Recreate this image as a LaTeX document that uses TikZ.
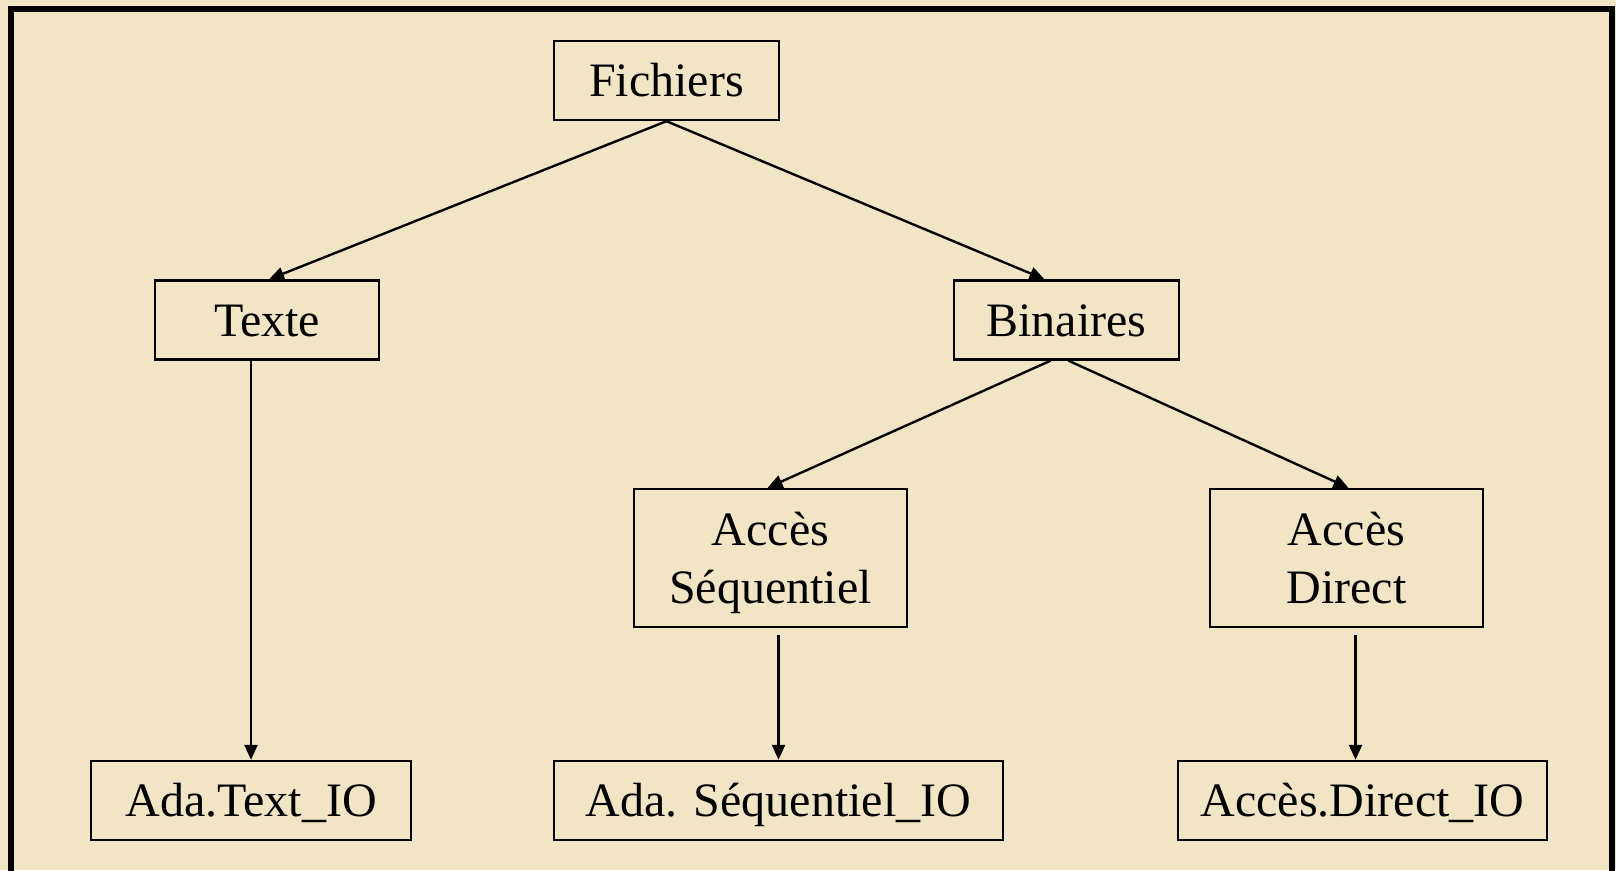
\documentclass[tikz,border=0pt]{standalone}
\usepackage{fontspec}
\setmainfont{Liberation Serif}
\usetikzlibrary{arrows.meta,calc}
\definecolor{parch}{RGB}{242,229,197}
\tikzset{
  box/.style={draw=black,line width=2.4pt,inner sep=0pt,minimum height=79pt,
    font=\fontsize{48}{58}\selectfont,align=center,text=black,text depth=0pt},
  onel/.style={text height=32pt},
  arr/.style={line width=2.4pt,-{Triangle[length=15pt,width=13pt]}}
}
\begin{document}
\begin{tikzpicture}[x=1pt,y=-1pt]
\useasboundingbox (0,0) rectangle (1616,870);
\fill[parch] (0,0) rectangle (1616,870);
\draw[line width=6.5pt] (11,900) -- (11,9) -- (1612,9) -- (1612,900);
\node[box,onel,minimum width=225pt] (fich) at (666.5,80.5) {Fichiers};
\node[box,onel,minimum width=224pt] (texte) at (267,320) {Texte};
\node[box,onel,minimum width=225pt] (bin) at (1066.5,320) {Binaires};
\node[box,minimum width=273pt,minimum height=138pt] (aseq) at (770.5,558) {Accès\\Séquentiel};
\node[box,minimum width=273pt,minimum height=138pt] (adir) at (1346.5,558) {Accès\\Direct};
\node[box,onel,minimum width=320pt] (textio) at (251,800.5) {Ada.Text\_IO};
\node[box,onel,minimum width=449pt] (seqio) at (778.5,800.5) {Ada. Séquentiel\_IO};
\node[box,onel,minimum width=369pt] (dirio) at (1362.5,800.5) {Accès.Direct\_IO};
\coordinate (dirtop) at ([xshift=-7pt]dirio.north);
\draw[arr] (fich.south) -- ([xshift=2pt]texte.north);
\draw[arr] (fich.south) -- ([xshift=-22pt]bin.north);
\draw[arr] ([xshift=-16pt]bin.south) -- ([xshift=-3pt]aseq.north);
\draw[arr] ([xshift=2pt]bin.south) -- ([xshift=2pt]adir.north);
\draw[arr] (texte.south -| textio.north) -- (textio.north);
\draw[arr] ([yshift=-7pt]aseq.south -| seqio.north) -- (seqio.north);
\draw[arr] ([yshift=-7pt]adir.south -| dirtop) -- (dirtop);
\end{tikzpicture}
\end{document}
